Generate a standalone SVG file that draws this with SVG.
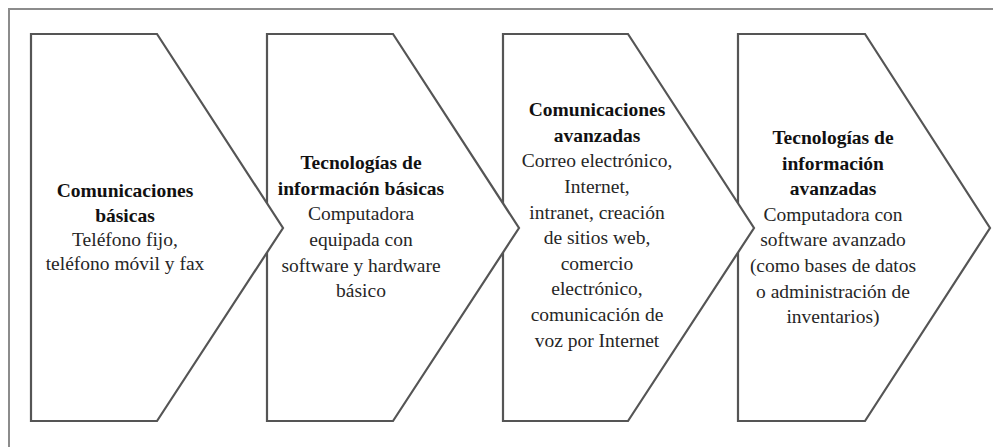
<svg xmlns="http://www.w3.org/2000/svg" width="993" height="447" viewBox="0 0 993 447">
<style>
.bg{fill:#ffffff}
.frame{fill:none;stroke:#8c8c8c;stroke-width:2}
.chev{fill:#ffffff;stroke:#555555;stroke-width:2.2;stroke-linejoin:miter}
.t{font-family:"Liberation Serif","Times New Roman",serif;font-size:19.5px;text-anchor:middle;fill:#262626}
.b{font-weight:bold;fill:#111111}
</style>
<rect class="bg" x="0" y="0" width="993" height="447"/>
<path class="frame" d="M9,447 V9 H993"/>
<g id="connectors"></g>
<g id="node4">
<polygon class="chev" points="738,34 865,34 990,228 865,421 738,421"/>
<text class="t"><tspan class="b" x="833" y="144">Tecnologías de</tspan><tspan class="b" x="833" y="169.5">información</tspan><tspan class="b" x="833" y="195">avanzadas</tspan><tspan x="833" y="220.5">Computadora con</tspan><tspan x="833" y="246">software avanzado</tspan><tspan x="833" y="272">(como bases de datos</tspan><tspan x="833" y="297.5">o administración de</tspan><tspan x="833" y="323">inventarios)</tspan></text>
</g>
<g id="node3">
<polygon class="chev" points="503,34 628,34 754,228 628,421 503,421"/>
<text class="t"><tspan class="b" x="597" y="116">Comunicaciones</tspan><tspan class="b" x="597" y="141.5">avanzadas</tspan><tspan x="597" y="167">Correo electrónico,</tspan><tspan x="597" y="193">Internet,</tspan><tspan x="597" y="218.5">intranet, creación</tspan><tspan x="597" y="244">de sitios web,</tspan><tspan x="597" y="269.5">comercio</tspan><tspan x="597" y="295">electrónico,</tspan><tspan x="597" y="321">comunicación de</tspan><tspan x="597" y="346.5">voz por Internet</tspan></text>
</g>
<g id="node2">
<polygon class="chev" points="267,34 393,34 519,228 393,421 267,421"/>
<text class="t"><tspan class="b" x="361" y="169">Tecnologías de</tspan><tspan class="b" x="361" y="194.5">información básicas</tspan><tspan x="361" y="220">Computadora</tspan><tspan x="361" y="246">equipada con</tspan><tspan x="361" y="271.5">software y hardware</tspan><tspan x="361" y="297">básico</tspan></text>
</g>
<g id="node1">
<polygon class="chev" points="31,34 157,34 283,228 157,421 31,421"/>
<text class="t"><tspan class="b" x="125" y="197">Comunicaciones</tspan><tspan class="b" x="125" y="222">básicas</tspan><tspan x="125" y="246">Teléfono fijo,</tspan><tspan x="125" y="270">teléfono móvil y fax</tspan></text>
</g>
</svg>
